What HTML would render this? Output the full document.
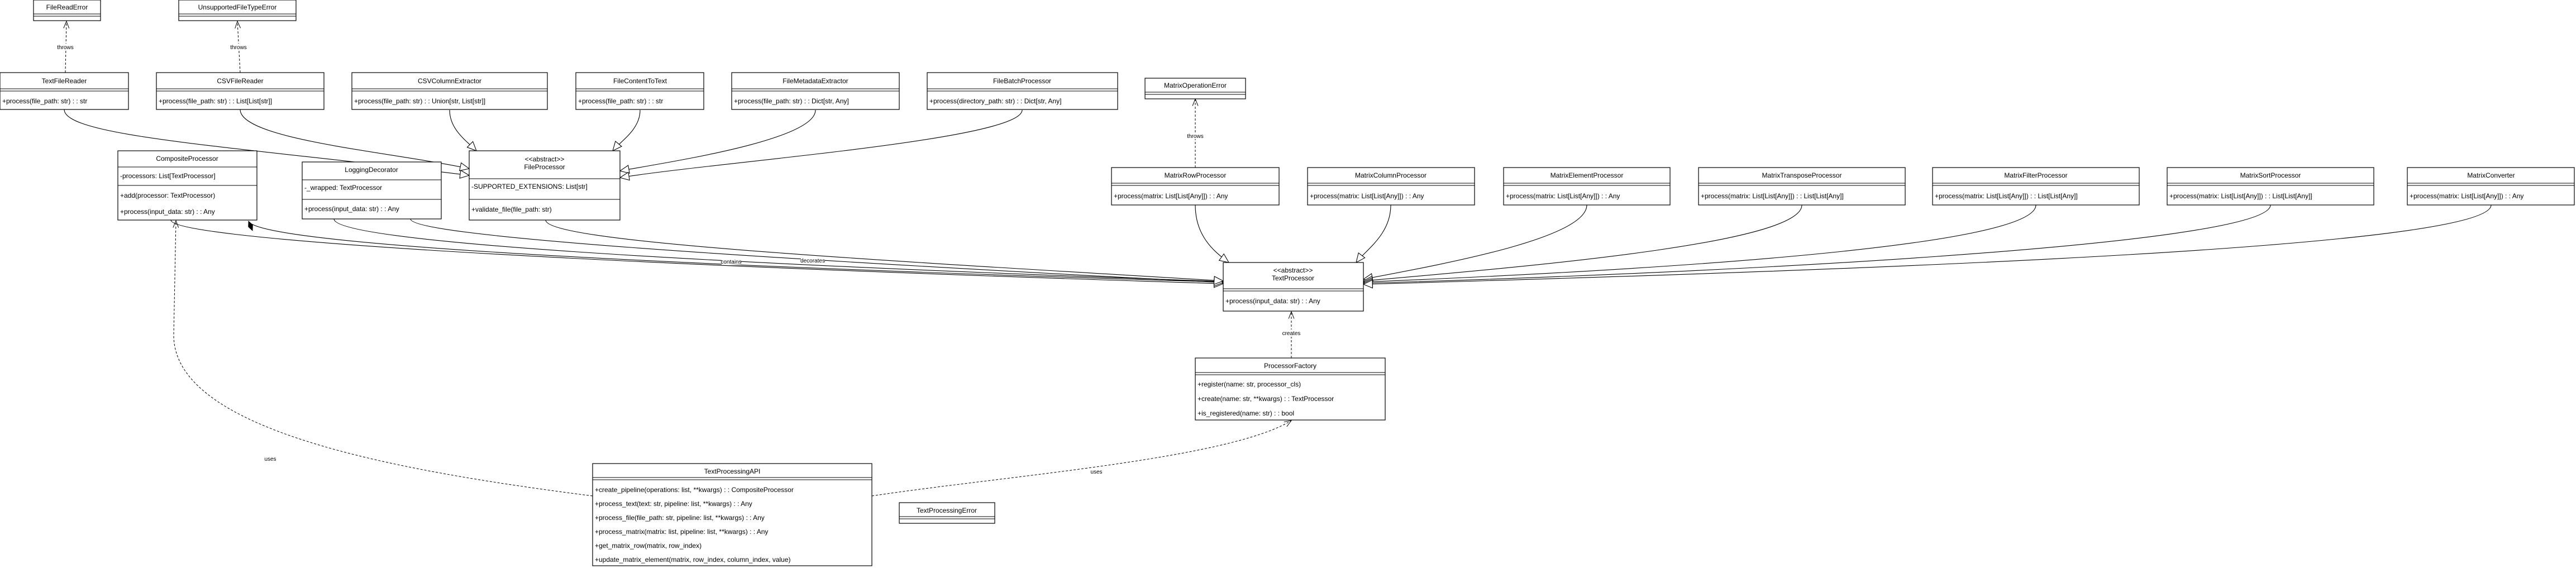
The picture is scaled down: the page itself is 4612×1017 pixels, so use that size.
<!DOCTYPE html>
<html><head><meta charset="utf-8"><style>
html,body{margin:0;padding:0;background:#fff;}
svg{display:block;font-family:"Liberation Sans",Arial,sans-serif;}
text{font-size:12px;fill:#000;}
.c{text-anchor:middle;}
.b{fill:#fff;stroke:#000;stroke-width:1.2;}
.l{stroke:#000;stroke-width:1;}
.e{fill:none;stroke:#000;stroke-width:1.1;}
.d{fill:none;stroke:#000;stroke-width:1;stroke-dasharray:4 3;}
.lb{font-size:10px;text-anchor:middle;}
</style></head><body>
<svg width="4612" height="1017" viewBox="0 0 4612 1017" xmlns="http://www.w3.org/2000/svg">
<defs>
<marker id="tri" viewBox="0 0 20 20" refX="19" refY="10" markerWidth="18" markerHeight="18" markerUnits="userSpaceOnUse" orient="auto"><path d="M1,2 L19,10 L1,18 Z" fill="#fff" stroke="#000" stroke-width="1.2"/></marker>
<marker id="open" viewBox="0 0 20 20" refX="19" refY="10" markerWidth="14" markerHeight="14" markerUnits="userSpaceOnUse" orient="auto"><path d="M1,3 L19,10 L1,17" fill="none" stroke="#000" stroke-width="1.4"/></marker>
<marker id="dia" viewBox="0 0 24 12" refX="1" refY="6" markerWidth="20" markerHeight="10" markerUnits="userSpaceOnUse" orient="auto"><path d="M1,6 L12,1 L23,6 L12,11 Z" fill="#000" stroke="#000"/></marker>
</defs>

<!-- edges -->
<path class="e" d="M115,196 C115,245 420,262 840,314" marker-end="url(#tri)"/>
<path class="e" d="M430,196 C430,250 700,272 840,302" marker-end="url(#tri)"/>
<path class="e" d="M805,197 C805,232 835,252 853,270" marker-end="url(#tri)"/>
<path class="e" d="M1146,197 C1146,232 1112,252 1097,270" marker-end="url(#tri)"/>
<path class="e" d="M1460,197 C1460,250 1210,288 1110,306" marker-end="url(#tri)"/>
<path class="e" d="M1830,197 C1830,250 1300,288 1110,318" marker-end="url(#tri)"/>
<path class="e" d="M306,394 C306,425 900,468 2190,508" marker-end="url(#tri)"/>
<path class="e" d="M445,396 C460,432 1000,470 2190,505" marker-start="url(#dia)" marker-end="url(#tri)"/>
<path class="e" d="M598,392 C598,432 1200,470 2190,504" marker-end="url(#tri)"/>
<path class="e" d="M735,392 C735,422 1300,460 2190,506" marker-end="url(#tri)"/>
<path class="e" d="M977,394 C977,432 1500,462 2190,503" marker-end="url(#tri)"/>
<path class="e" d="M2140,367 C2140,420 2170,448 2200,470" marker-end="url(#tri)"/>
<path class="e" d="M2490,367 C2490,420 2445,448 2428,470" marker-end="url(#tri)"/>
<path class="e" d="M2841,367 C2841,425 2600,470 2441,500" marker-end="url(#tri)"/>
<path class="e" d="M3226,367 C3226,432 2800,472 2441,503" marker-end="url(#tri)"/>
<path class="e" d="M3645,367 C3645,440 3000,482 2441,505" marker-end="url(#tri)"/>
<path class="e" d="M4065,367 C4065,442 3000,492 2441,507" marker-end="url(#tri)"/>
<path class="e" d="M4460,367 C4460,442 3400,482 2441,509" marker-end="url(#tri)"/>

<path class="d" d="M2312,641 L2312,558" marker-end="url(#open)"/>
<path class="d" d="M1561,888 C1800,852 2200,822 2312,753" marker-end="url(#open)"/>
<path class="d" d="M1061,888 C700,842 311,770 311,600 L315,395" marker-end="url(#open)"/>
<path class="d" d="M117,130 L119,38" marker-end="url(#open)"/>
<path class="d" d="M430,130 L425,38" marker-end="url(#open)"/>
<path class="d" d="M2140,300 L2140,177" marker-end="url(#open)"/>

<rect x="1292" y="462" width="34" height="12" fill="#fff"/><text class="lb" x="1309" y="472">contains</text>
<rect x="1434" y="460" width="42" height="12" fill="#fff"/><text class="lb" x="1455" y="470">decorates</text>
<rect x="2296" y="590" width="32" height="13" fill="#fff"/><text class="lb" x="2312" y="600">creates</text>
<rect x="1950" y="838" width="26" height="12" fill="#fff"/><text class="lb" x="1963" y="848">uses</text>
<text class="lb" x="484" y="825">uses</text>
<rect x="102" y="78" width="30" height="12" fill="#fff"/><text class="lb" x="117" y="88">throws</text>
<rect x="412" y="78" width="30" height="12" fill="#fff"/><text class="lb" x="427" y="88">throws</text>
<rect x="2125" y="237" width="30" height="12" fill="#fff"/><text class="lb" x="2140" y="247">throws</text>

<!-- simple boxes -->
<rect class="b" x="60" y="0" width="120" height="37"/><text class="c" x="120" y="17">FileReadError</text><line class="l" x1="60" y1="25" x2="180" y2="25"/><line class="l" x1="60" y1="29" x2="180" y2="29"/>
<rect class="b" x="320" y="0" width="210" height="37"/><text class="c" x="425" y="17">UnsupportedFileTypeError</text><line class="l" x1="320" y1="25" x2="530" y2="25"/><line class="l" x1="320" y1="29" x2="530" y2="29"/>
<rect class="b" x="2050" y="140" width="180" height="37"/><text class="c" x="2140" y="157">MatrixOperationError</text><line class="l" x1="2050" y1="165" x2="2230" y2="165"/><line class="l" x1="2050" y1="169" x2="2230" y2="169"/>
<rect class="b" x="1610" y="900" width="171" height="37"/><text class="c" x="1695" y="918">TextProcessingError</text><line class="l" x1="1610" y1="925" x2="1781" y2="925"/><line class="l" x1="1610" y1="929" x2="1781" y2="929"/>

<!-- file readers row -->
<rect class="b" x="0" y="130" width="230" height="66"/><text class="c" x="115" y="149">TextFileReader</text><line class="l" x1="0" y1="159" x2="230" y2="159"/><line class="l" x1="0" y1="163" x2="230" y2="163"/><text x="4" y="185">+process(file_path: str) : : str</text>
<rect class="b" x="280" y="130" width="300" height="66"/><text class="c" x="430" y="149">CSVFileReader</text><line class="l" x1="280" y1="159" x2="580" y2="159"/><line class="l" x1="280" y1="163" x2="580" y2="163"/><text x="284" y="185">+process(file_path: str) : : List[List[str]]</text>
<rect class="b" x="630" y="130" width="350" height="66"/><text class="c" x="805" y="149">CSVColumnExtractor</text><line class="l" x1="630" y1="159" x2="980" y2="159"/><line class="l" x1="630" y1="163" x2="980" y2="163"/><text x="634" y="185">+process(file_path: str) : : Union[str, List[str]]</text>
<rect class="b" x="1031" y="130" width="229" height="66"/><text class="c" x="1146" y="149">FileContentToText</text><line class="l" x1="1031" y1="159" x2="1260" y2="159"/><line class="l" x1="1031" y1="163" x2="1260" y2="163"/><text x="1035" y="185">+process(file_path: str) : : str</text>
<rect class="b" x="1310" y="130" width="300" height="66"/><text class="c" x="1460" y="149">FileMetadataExtractor</text><line class="l" x1="1310" y1="159" x2="1610" y2="159"/><line class="l" x1="1310" y1="163" x2="1610" y2="163"/><text x="1314" y="185">+process(file_path: str) : : Dict[str, Any]</text>
<rect class="b" x="1660" y="130" width="341" height="66"/><text class="c" x="1830" y="149">FileBatchProcessor</text><line class="l" x1="1660" y1="159" x2="2001" y2="159"/><line class="l" x1="1660" y1="163" x2="2001" y2="163"/><text x="1664" y="185">+process(directory_path: str) : : Dict[str, Any]</text>

<!-- composite / logging / fileprocessor -->
<rect class="b" x="211" y="270" width="249" height="124"/><text class="c" x="335" y="288">CompositeProcessor</text><line class="l" x1="211" y1="299" x2="460" y2="299"/><text x="215" y="319">-processors: List[TextProcessor]</text><line class="l" x1="211" y1="332" x2="460" y2="332"/><text x="215" y="354">+add(processor: TextProcessor)</text><text x="215" y="383">+process(input_data: str) : : Any</text>
<rect class="b" x="541" y="290" width="249" height="102"/><text class="c" x="665" y="308">LoggingDecorator</text><line class="l" x1="541" y1="322" x2="790" y2="322"/><text x="545" y="340">-_wrapped: TextProcessor</text><line class="l" x1="541" y1="357" x2="790" y2="357"/><text x="545" y="378">+process(input_data: str) : : Any</text>
<rect class="b" x="840" y="270" width="270" height="124"/><text class="c" x="975" y="289">&lt;&lt;abstract&gt;&gt;</text><text class="c" x="975" y="303">FileProcessor</text><line class="l" x1="840" y1="320" x2="1110" y2="320"/><text x="844" y="338">-SUPPORTED_EXTENSIONS: List[str]</text><line class="l" x1="840" y1="357" x2="1110" y2="357"/><text x="844" y="379">+validate_file(file_path: str)</text>

<!-- matrix row -->
<rect class="b" x="1990" y="300" width="300" height="67"/><text class="c" x="2140" y="318">MatrixRowProcessor</text><line class="l" x1="1990" y1="328" x2="2290" y2="328"/><line class="l" x1="1990" y1="332" x2="2290" y2="332"/><text x="1994" y="355">+process(matrix: List[List[Any]]) : : Any</text>
<rect class="b" x="2341" y="300" width="299" height="67"/><text class="c" x="2490" y="318">MatrixColumnProcessor</text><line class="l" x1="2341" y1="328" x2="2640" y2="328"/><line class="l" x1="2341" y1="332" x2="2640" y2="332"/><text x="2345" y="355">+process(matrix: List[List[Any]]) : : Any</text>
<rect class="b" x="2692" y="300" width="298" height="67"/><text class="c" x="2841" y="318">MatrixElementProcessor</text><line class="l" x1="2692" y1="328" x2="2990" y2="328"/><line class="l" x1="2692" y1="332" x2="2990" y2="332"/><text x="2696" y="355">+process(matrix: List[List[Any]]) : : Any</text>
<rect class="b" x="3041" y="300" width="370" height="67"/><text class="c" x="3226" y="318">MatrixTransposeProcessor</text><line class="l" x1="3041" y1="328" x2="3411" y2="328"/><line class="l" x1="3041" y1="332" x2="3411" y2="332"/><text x="3045" y="355">+process(matrix: List[List[Any]]) : : List[List[Any]]</text>
<rect class="b" x="3460" y="300" width="370" height="67"/><text class="c" x="3645" y="318">MatrixFilterProcessor</text><line class="l" x1="3460" y1="328" x2="3830" y2="328"/><line class="l" x1="3460" y1="332" x2="3830" y2="332"/><text x="3464" y="355">+process(matrix: List[List[Any]]) : : List[List[Any]]</text>
<rect class="b" x="3880" y="300" width="370" height="67"/><text class="c" x="4065" y="318">MatrixSortProcessor</text><line class="l" x1="3880" y1="328" x2="4250" y2="328"/><line class="l" x1="3880" y1="332" x2="4250" y2="332"/><text x="3884" y="355">+process(matrix: List[List[Any]]) : : List[List[Any]]</text>
<rect class="b" x="4310" y="300" width="299" height="67"/><text class="c" x="4460" y="318">MatrixConverter</text><line class="l" x1="4310" y1="328" x2="4609" y2="328"/><line class="l" x1="4310" y1="332" x2="4609" y2="332"/><text x="4314" y="355">+process(matrix: List[List[Any]]) : : Any</text>

<!-- TextProcessor -->
<rect class="b" x="2190" y="470" width="251" height="87"/><text class="c" x="2315" y="488">&lt;&lt;abstract&gt;&gt;</text><text class="c" x="2315" y="502">TextProcessor</text><line class="l" x1="2190" y1="517" x2="2441" y2="517"/><line class="l" x1="2190" y1="521" x2="2441" y2="521"/><text x="2194" y="543">+process(input_data: str) : : Any</text>

<!-- ProcessorFactory -->
<rect class="b" x="2140" y="641" width="340" height="111"/><text class="c" x="2310" y="659">ProcessorFactory</text><line class="l" x1="2140" y1="667" x2="2480" y2="667"/><line class="l" x1="2140" y1="671" x2="2480" y2="671"/><text x="2144" y="692">+register(name: str, processor_cls)</text><text x="2144" y="718">+create(name: str, **kwargs) : : TextProcessor</text><text x="2144" y="744">+is_registered(name: str) : : bool</text>

<!-- TextProcessingAPI -->
<rect class="b" x="1061" y="830" width="500" height="183"/><text class="c" x="1311" y="848">TextProcessingAPI</text><line class="l" x1="1061" y1="855" x2="1561" y2="855"/><line class="l" x1="1061" y1="859" x2="1561" y2="859"/>
<text x="1065" y="881">+create_pipeline(operations: list, **kwargs) : : CompositeProcessor</text>
<text x="1065" y="906">+process_text(text: str, pipeline: list, **kwargs) : : Any</text>
<text x="1065" y="931">+process_file(file_path: str, pipeline: list, **kwargs) : : Any</text>
<text x="1065" y="956">+process_matrix(matrix: list, pipeline: list, **kwargs) : : Any</text>
<text x="1065" y="981">+get_matrix_row(matrix, row_index)</text>
<text x="1065" y="1006">+update_matrix_element(matrix, row_index, column_index, value)</text>
</svg>
</body></html>
